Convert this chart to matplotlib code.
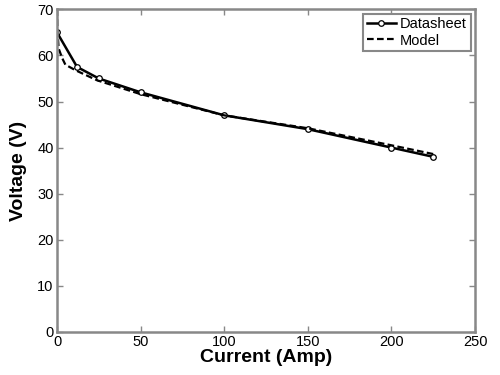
import numpy as np
import matplotlib
matplotlib.use('Agg')
import matplotlib.pyplot as plt

plt.rcParams['font.family'] = ['Liberation Sans', 'DejaVu Sans']

# Datasheet points
current_ds = [0, 12, 25, 50, 100, 150, 200, 225]
voltage_ds = [65, 57.5, 55, 52, 47, 44, 40, 38]

# Model curve
current_model = [0, 0.3, 1, 3, 5, 11, 24, 50, 100, 150, 200, 225]
voltage_model = [70, 65, 61.5, 59.5, 58, 56.8, 54.6, 51.6, 47, 44.2, 40.5, 38.6]

fig = plt.figure(figsize=(5, 3.75), dpi=100)
ax = fig.add_axes([0.114, 0.115, 0.836, 0.86])

ax.plot(current_ds, voltage_ds, '-', color='black', lw=1.8, marker='o',
        ms=4, mfc='white', mec='black', mew=0.9, label='Datasheet')
ax.plot(current_model, voltage_model, '--', color='black', lw=1.6,
        dashes=(3, 1.5), label='Model')

ax.set_xlim(0, 250)
ax.set_ylim(0, 70)
ax.set_xticks(np.arange(0, 251, 50))
ax.set_yticks(np.arange(0, 71, 10))

for sp in ax.spines.values():
    sp.set_color('#888888')
    sp.set_linewidth(1.8)
ax.tick_params(direction='in', top=True, right=True, length=4, width=1,
               color='#888888', labelsize=10.5, pad=2.5)

ax.set_xlabel('Current (Amp)', fontsize=14, fontweight='bold', labelpad=0)
ax.set_ylabel('Voltage (V)', fontsize=14, fontweight='bold', labelpad=7)

leg = ax.legend(loc='upper right', fontsize=10.5, fancybox=False, framealpha=1,
                edgecolor='#888888', borderpad=0.25, handlelength=2.0,
                handletextpad=0.3, labelspacing=0.15, borderaxespad=0.3)
leg.get_frame().set_linewidth(1.5)

fig.savefig('out.png', dpi=100)
